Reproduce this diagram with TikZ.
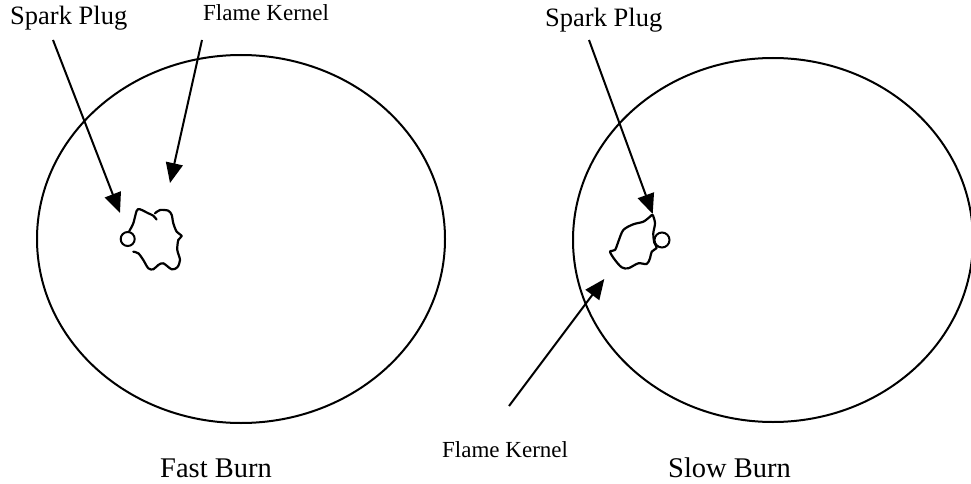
\documentclass[tikz,border=0pt]{standalone}
\usepackage{fontspec}
\setmainfont{Liberation Serif}
\usetikzlibrary{arrows.meta}
\tikzset{
  lbl/.style={inner sep=0pt, anchor=base west, font=\fontsize{26.5}{30}\selectfont},
  lblsmall/.style={inner sep=0pt, anchor=base west, font=\fontsize{23}{26}\selectfont},
  caption/.style={inner sep=0pt, anchor=base west, font=\fontsize{28.5}{32}\selectfont},
  chamber/.style={line width=2pt},
  pointer/.style={line width=2pt, -{Triangle[length=20pt,width=17pt]}},
  kernel/.style={line width=2.2pt, line join=round, line cap=round},
  plug/.style={line width=2pt, fill=white}
}
\begin{document}
\begin{tikzpicture}[x=1pt,y=-1pt]
\useasboundingbox (0,0) rectangle (971,484);
% chambers
\draw[chamber] (241,239) ellipse [x radius=204pt, y radius=184pt];
\draw[chamber] (773,240) ellipse [x radius=200pt, y radius=182pt];
% labels
\node[lbl] (spL) at (10,25) {Spark Plug};
\node[lblsmall] (fkL) at (203,21) {Flame Kernel};
\node[lbl] (spR) at (545,27) {Spark Plug};
\node[lblsmall] (fkR) at (442,457) {Flame Kernel};
\node[caption] (fast) at (160,477) {Fast Burn};
\node[caption] (slow) at (668,477) {Slow Burn};
% arrow coordinates
\coordinate (spLs) at (53,40);
\coordinate (spLt) at (120,213);
\coordinate (fkLs) at (202,40);
\coordinate (fkLt) at (170,183);
\coordinate (spRs) at (589,40);
\coordinate (spRt) at (652.7,214);
\coordinate (fkRs) at (509,406);
\coordinate (fkRt) at (604.3,279);
\draw[pointer] (spLs) -- (spLt);
\draw[pointer] (fkLs) -- (fkLt);
\draw[pointer] (spRs) -- (spRt);
\draw[pointer] (fkRs) -- (fkRt);
% fast burn kernel
\draw[kernel] plot[smooth, tension=0.5] coordinates {
 (129.3,231) (133.3,223.3) (136.7,210.7) (140,209.3) (148.3,213.3) (153.3,215.7) (156.5,219.5)};
\draw[kernel] plot[smooth, tension=0.5] coordinates {
 (155,213.3) (160,210) (168.3,210.7) (171.7,215) (173.3,223.3) (176.7,231.7) (181.7,236) (178.3,240) (177.3,250) (180,260) (177.3,267.3) (171.7,269.3) (163.3,263.3) (158.3,265) (153.3,269.3) (148.3,268.3) (143.3,260) (138.3,253.3) (133.3,251.7)};
\node[plug, circle, draw, minimum size=14pt, inner sep=0pt] (plugL) at (127.7,239) {};
% slow burn kernel
\draw[kernel] plot[smooth cycle, tension=0.5] coordinates {
 (652.7,215) (655,223.3) (653.3,233.3) (654.3,242.7) (656.7,247.7) (651.7,251.7) (650,258.3) (646.7,264) (638.3,263.3) (628.3,268.3) (621.7,267.3) (615,260) (610,251.7) (615,250) (618.3,241.7) (623.3,230) (633.3,224.3) (643.3,221.7) (650,216.7)};
\node[plug, circle, draw, minimum size=15pt, inner sep=0pt] (plugR) at (662,240) {};
\end{tikzpicture}
\end{document}
